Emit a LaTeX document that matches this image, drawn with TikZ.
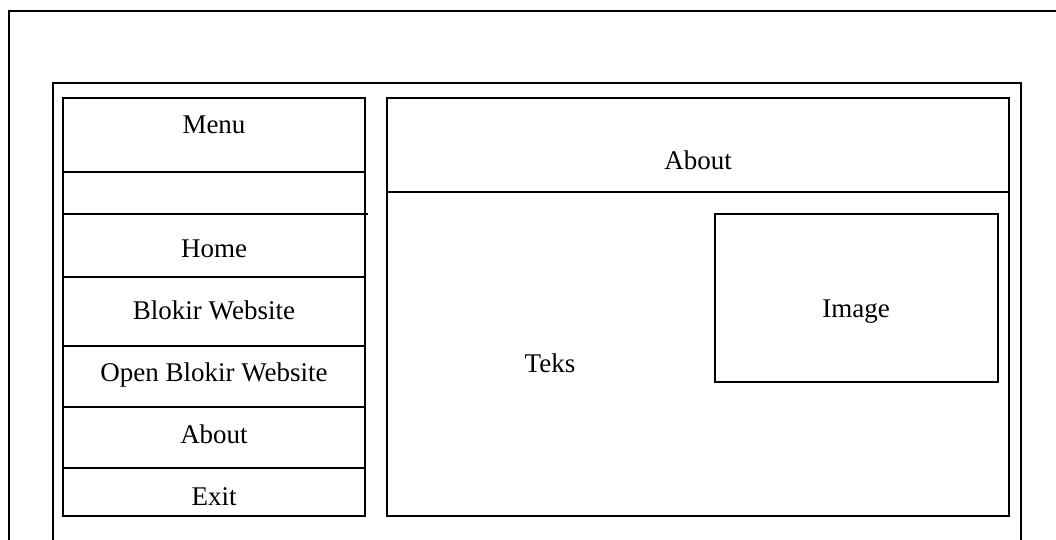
\documentclass[tikz,border=0pt]{standalone}
\usepackage{fontspec}
\setmainfont{Liberation Serif}
\begin{document}
\begin{tikzpicture}[x=1pt,y=-1pt,
  frame/.style={line width=1.8pt,line cap=rect},
  label/.style={anchor=base,inner sep=0pt,font=\fontsize{27}{30}\selectfont}]
\useasboundingbox (0,0) rectangle (1056,539);
% outer window (open at right and bottom)
\draw[frame] (1056,11) -- (9,11) -- (9,539);
% inner frame
\draw[frame] (53,539) -- (53,83) -- (1021,83) -- (1021,539);
% menu column
\draw[frame] (63,98) rectangle (365,516);
\draw[frame] (63,172) -- (365,172);
\draw[frame] (63,214) -- (367,214);
\foreach \yy in {277,346,407,468} \draw[frame] (63,\yy) -- (365,\yy);
% content panel
\draw[frame] (387,98) rectangle (1009,516);
\draw[frame] (387,192) -- (1009,192);
\draw[frame] (715,214) rectangle (998,382);
% texts
\node[label] (menu) at (214,133) {Menu};
\node[label] (home) at (214,257) {Home};
\node[label] (blokir) at (214,319) {Blokir Website};
\node[label] (open) at (214,381) {Open Blokir Website};
\node[label] (about) at (214,443) {About};
\node[label] (exit) at (214,505) {Exit};
\node[label] (title) at (698,169) {About};
\node[label] (teks) at (550,372) {Teks};
\node[label] (image) at (856,317) {Image};
\end{tikzpicture}
\end{document}
